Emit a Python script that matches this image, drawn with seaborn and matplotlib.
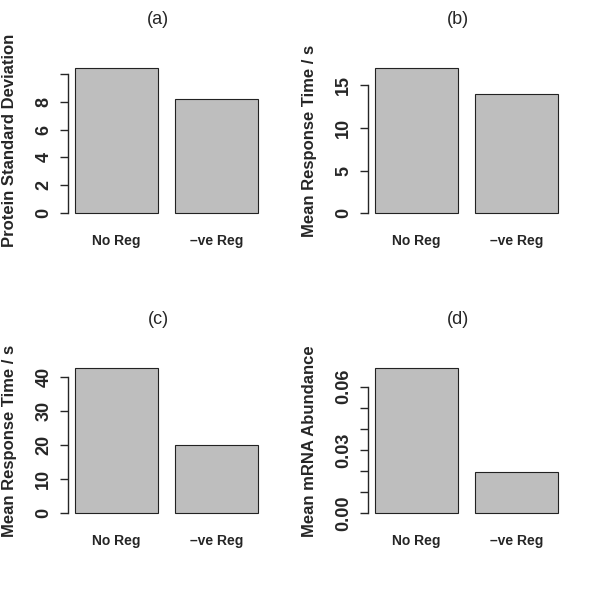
import matplotlib
matplotlib.use("Agg")
import matplotlib.pyplot as plt
import seaborn as sns
import pandas as pd

# data
categories = ["No Reg", "\u2013ve Reg"]
protein_sd = [10.39, 8.19]
response_time_b = [16.96, 13.95]
response_time_c = [42.46, 19.9]
mrna_abundance = [0.0687, 0.0197]

titles = ["(a)", "(b)", "(c)", "(d)"]
ylabels = ["Protein Standard Deviation", "Mean Response Time / s",
           "Mean Response Time / s", "Mean mRNA Abundance"]
yticks_a = [0, 2, 4, 6, 8, 10]
ytick_labels_a = ["0", "2", "4", "6", "8", ""]
yticks_b = [0, 5, 10, 15]
ytick_labels_b = ["0", "5", "10", "15"]
yticks_c = [0, 10, 20, 30, 40]
ytick_labels_c = ["0", "10", "20", "30", "40"]
yticks_d = [0, 0.01, 0.02, 0.03, 0.04, 0.05, 0.06]
ytick_labels_d = ["0.00", "", "", "0.03", "", "", "0.06"]

sns.set_style("ticks")
plt.rcParams["font.family"] = ["Liberation Sans", "DejaVu Sans"]

fig = plt.figure(figsize=(6, 6), dpi=100)
rects = [[0.1127, 0.6348, 0.33, 0.261], [0.6127, 0.6348, 0.33, 0.261],
         [0.1127, 0.1348, 0.33, 0.261], [0.6127, 0.1348, 0.33, 0.261]]
series = [protein_sd, response_time_b, response_time_c, mrna_abundance]
ticks = [yticks_a, yticks_b, yticks_c, yticks_d]
tick_labels = [ytick_labels_a, ytick_labels_b, ytick_labels_c, ytick_labels_d]

for rect, vals, title, ylab, tk, tkl in zip(rects, series, titles, ylabels, ticks, tick_labels):
    ax = fig.add_axes(rect)
    df = pd.DataFrame({"group": categories, "value": vals})
    sns.barplot(data=df, x="group", y="value", color="#BEBEBE", saturation=1,
                edgecolor="#222222", linewidth=0.8, width=0.833, ax=ax)
    ax.set_xlim(-0.49, 1.49)
    top = max(vals)
    ax.set_ylim(-0.04 * top, 1.04 * top)
    for s in ["top", "right", "bottom"]:
        ax.spines[s].set_visible(False)
    ax.spines["left"].set_linewidth(1)
    ax.spines["left"].set_bounds(tk[0], tk[-1])
    ax.set_yticks(tk)
    ax.set_yticklabels(tkl, rotation=90, va="center", fontweight="bold", fontsize=13)
    ax.tick_params(axis="y", length=6, width=1, pad=5)
    ax.tick_params(axis="x", length=0, pad=11, labelsize=10)
    for t in ax.get_xticklabels():
        t.set_fontweight("bold")
    ax.set_xlabel("")
    ax.set_ylabel(ylab, fontsize=12, fontweight="bold")
    ax.yaxis.set_label_coords(-0.295, 0.5)
    ax.yaxis.label.set_va("center")
    ax.text(0.458, 1.275, title, transform=ax.transAxes, ha="center", va="center", fontsize=13)

plt.savefig("out.png", dpi=100)
